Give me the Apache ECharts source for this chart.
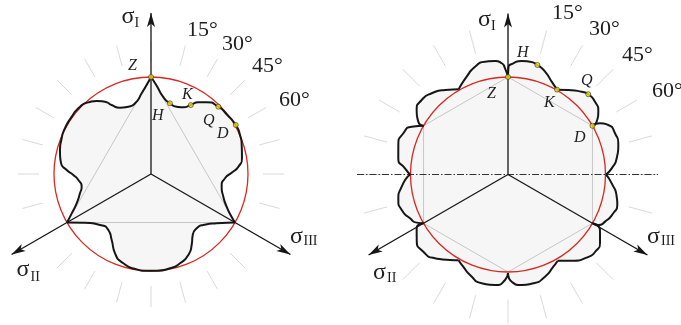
<!DOCTYPE html>
<html>
<head>
<meta charset="utf-8">
<script src="https://cdn.jsdelivr.net/npm/echarts@6/dist/echarts.min.js"></script>
<style>
  html, body { margin: 0; padding: 0; background: #ffffff; }
  #chart { width: 681px; height: 325px; }
</style>
</head>
<body>
<div id="chart"></div>
<script>
// Two deviatoric-plane sections drawn in polar coordinates.
// Every curve point is [angle in degrees clockwise from the σI axis, radius].

// ---- left section: three-lobed limit curve ----
const leftCircleRadius = 97;
const leftVertexAngles = [0, 120, 240, 360];
const leftArcTop = [[0, 97], [3.7, 88.5], [9, 78], [15, 73.2], [20.9, 72], [25.8, 74.1], [29.9, 79.6],
  [33.4, 85.9], [37.8, 90.8], [45, 95.2], [52.1, 96.4], [59.9, 97.9], [66.3, 97.2], [72.3, 95.2],
  [80.2, 92.3], [85, 88], [89, 81], [93.3, 74.1], [100.2, 71.8], [107.4, 75.8], [113.4, 82.5],
  [117.9, 91], [120, 97]];
const leftArcBottom = [[120, 97], [126.9, 82.1], [134.3, 73], [139.9, 71], [145.6, 73.9], [150.2, 81.8],
  [155.3, 89.2], [162, 93.9], [168.6, 96.2], [176.6, 96.9], [183, 97], [188.5, 96.4], [197.2, 93.5],
  [204.4, 87.1], [210.8, 76.8], [217.3, 70.4], [225, 72.1], [234.3, 83.4], [240, 97]];
const leftArcSide = [[240, 97], [243.6, 88.5], [248.5, 79.9], [254.8, 73.6], [259.6, 70.5], [265.3, 72.9],
  [269.3, 77.7], [272.7, 84.4], [277, 90.7], [283.8, 93.7], [291.8, 96.2], [298, 97.4], [305.9, 97.8],
  [313.5, 97.8], [318.8, 95.2], [323.4, 91], [327.5, 85.7], [330.3, 79.4], [334.9, 73.2], [341.4, 71],
  [347.3, 72.5], [353.4, 81.2], [360, 97]];
const leftMarks = [[0, 97], [15, 73.2], [30, 79.6], [45, 95.2], [60, 97.9]];

// ---- right section: twelve-lobed limit curve ----
const rightCircleRadius = 97.5;
const rightVertexAngles = [0, 60, 120, 180, 240, 300, 360];
const lobe000 = [[0, 97.5], [0.2, 106.2], [2.7, 111.3], [6.9, 114.3], [11, 114.9], [15, 113.4], [19.8, 109.3], [25.2, 102.6], [30, 98]];
const lobe030 = [[30, 98], [35.5, 103.8], [41.7, 110.8], [45, 113.5], [50.1, 113.4], [55.2, 110], [59.2, 103.2], [60, 97.5]];
const lobe060 = [[60, 97.5], [60.9, 105.3], [63.7, 111.8], [68.9, 114.7], [75, 114.2], [81.5, 109.9], [86.6, 103.9], [90, 98]];
const lobe090 = [[90, 98], [94.9, 104.1], [101.5, 110.9], [105.6, 113.5], [110.2, 112.2], [115.9, 107.9], [119.2, 103.5], [120, 97.5]];
const lobe120 = [[120, 97.5], [121.1, 107.4], [126.8, 114.9], [131, 116.5], [135.9, 115], [143.5, 107.2], [150, 99.5]];
const lobe150 = [[150, 99.5], [153.8, 102.7], [160.1, 108.7], [166.9, 111.7], [172.9, 111.3], [178, 107.3], [180, 98.5]];
const lobe180 = [[180, 98.5], [181.6, 105.5], [186.7, 111.3], [193.6, 111.9], [200.7, 107.4], [205.9, 102.5], [210, 98.9]];
const lobe210 = [[210, 98.9], [214.2, 103.3], [221.1, 111.1], [227.6, 114.6], [234.3, 112.4], [239.5, 106], [240, 97.5]];
const lobe240 = [[240, 97.5], [242.2, 103.2], [245.9, 107.3], [251.5, 112.1], [256.9, 112.6], [263.5, 107], [270, 98]];
const lobe270 = [[270, 98], [273.4, 103.2], [278.4, 110.9], [285.1, 113.6], [291.5, 112.5], [296.4, 107.5], [300, 97.5]];
const lobe300 = [[300, 97.5], [300.5, 104.1], [305.2, 111.8], [310.8, 114], [316.8, 111.4], [323.3, 105.4], [330, 98.5]];
const lobe330 = [[330, 98.5], [337.1, 106.2], [343, 112.7], [348.5, 115.1], [353.5, 114.2], [356.8, 111.4], [358.4, 106.2], [360, 97.5]];
const rightMarks = [[0, 97.5], [15, 113.4], [30, 98], [45, 113.5], [60, 97.5]];
const symmetryLine = [[270, 151], [90, 150]];

// ---- shared ----
const axisAngles = [0, 240, 120];
const axisSubscripts = ['I', 'II', 'III'];
const axisLength = 168;
const markNames = ['Z', 'H', 'K', 'Q', 'D'];
const rayLabels = ['15°', '30°', '45°', '60°'];
const rayStep = 15;

// ---- layout ----
const leftCenter = [151, 174];
const rightCenter = [508, 174.5];
const OUTER = 170;
const INK = '#161616';
const FILL = '#f6f6f6';
const RED = '#d9281f';
const SMOOTH = 0.65;
const SERIF = '"Liberation Serif", "Times New Roman", serif';

function polarSet(center, rayStart, rayLen, circleR) {
  // three polar systems per section: data, tick rays, reference circle
  const polars = [
    { center: center, radius: OUTER },
    { center: center, radius: rayStart },
    { center: center, radius: circleR }
  ];
  const angleAxes = [
    { type: 'value', min: 0, max: 360, startAngle: 90, clockwise: true, show: true,
      axisLine: { show: false }, axisTick: { show: false }, axisLabel: { show: false }, splitLine: { show: false } },
    { type: 'value', min: 0, max: 360, interval: rayStep, startAngle: 90, clockwise: true,
      axisLine: { show: false }, axisLabel: { show: false }, splitLine: { show: false },
      axisTick: { show: true, length: rayLen, lineStyle: { color: '#dadada', width: 1 } } },
    { type: 'value', min: 0, max: 360, startAngle: 90, clockwise: true, z: 3,
      axisLine: { show: true, lineStyle: { color: RED, width: 1.3 } },
      axisTick: { show: false }, axisLabel: { show: false }, splitLine: { show: false } }
  ];
  const radiusAxes = [
    { type: 'value', min: 0, max: OUTER, show: false },
    { type: 'value', min: 0, max: rayStart, show: false },
    { type: 'value', min: 0, max: circleR, show: false }
  ];
  return { polars, angleAxes, radiusAxes };
}

const L = polarSet(leftCenter, 112, 21, leftCircleRadius);
const R = polarSet(rightCenter, 125, 24, rightCircleRadius);
const polar = L.polars.concat(R.polars);
const angleAxis = L.angleAxes.concat(R.angleAxes).map((a, i) => Object.assign({ polarIndex: i }, a));
const radiusAxis = L.radiusAxes.concat(R.radiusAxes).map((a, i) => Object.assign({ polarIndex: i }, a));

const toPolar = pts => pts.map(p => [p[1], p[0]]);

function curveFill(pi, pts) {
  return { type: 'line', coordinateSystem: 'polar', polarIndex: pi, data: toPolar(pts), smooth: SMOOTH,
    symbol: 'none', silent: true, z: 1, lineStyle: { width: 0, opacity: 0 },
    areaStyle: { color: FILL, opacity: 1 } };
}
function curveLine(pi, pts) {
  return { type: 'line', coordinateSystem: 'polar', polarIndex: pi, data: toPolar(pts), smooth: SMOOTH,
    symbol: 'none', silent: true, z: 4, lineStyle: { color: INK, width: 2 } };
}
function polygonLine(pi, angles, r) {
  return { type: 'line', coordinateSystem: 'polar', polarIndex: pi, data: angles.map(a => [r, a]),
    symbol: 'none', silent: true, z: 2, lineStyle: { color: '#c6c6c6', width: 1 } };
}
function axisArrow(pi, a) {
  return { type: 'line', coordinateSystem: 'polar', polarIndex: pi, silent: true, z: 5,
    showSymbol: true, showAllSymbol: true,
    lineStyle: { color: INK, width: 1.3 }, itemStyle: { color: INK, borderWidth: 0 },
    data: [
      { value: [0, a], symbol: 'none' },
      { value: [axisLength - 7, a], symbol: 'arrow', symbolSize: [6, 14], symbolRotate: -a }
    ] };
}
function markPoints(pi, pts) {
  return { type: 'scatter', coordinateSystem: 'polar', polarIndex: pi, data: toPolar(pts), silent: true,
    z: 6, symbol: 'circle', symbolSize: 5,
    itemStyle: { color: '#f4e200', borderColor: '#303030', borderWidth: 0.8 } };
}

const leftArcs = [leftArcTop, leftArcBottom, leftArcSide];
const rightArcs = [lobe000, lobe030, lobe060, lobe090, lobe120, lobe150, lobe180, lobe210, lobe240, lobe270, lobe300, lobe330];

const series = [];
leftArcs.forEach(a => series.push(curveFill(0, a)));
rightArcs.forEach(a => series.push(curveFill(3, a)));
series.push(polygonLine(0, leftVertexAngles, leftCircleRadius));
series.push(polygonLine(3, rightVertexAngles, rightCircleRadius));
series.push({ type: 'line', coordinateSystem: 'polar', polarIndex: 3, data: toPolar(symmetryLine),
  symbol: 'none', silent: true, z: 3, lineStyle: { color: '#333', width: 1, type: [7, 2, 1.5, 2] } });
leftArcs.forEach(a => series.push(curveLine(0, a)));
rightArcs.forEach(a => series.push(curveLine(3, a)));
axisAngles.forEach(a => { series.push(axisArrow(0, a)); series.push(axisArrow(3, a)); });
series.push(markPoints(0, leftMarks));
series.push(markPoints(3, rightMarks));

// ---- text ----
const leftRayLabelPos = [[187, 30.5], [222, 44], [252, 66], [279, 100]];
const rightRayLabelPos = [[552, 13.5], [589, 29.5], [622, 55], [652, 91.5]];
const leftSigmaPos = [[121.5, 16.6, 134.5, 23.3], [16.5, 270.1, 30.5, 277], [290, 236.6, 303.5, 241]];
const rightSigmaPos = [[478, 20.1, 491, 26.7], [373, 272.6, 387, 278], [647, 236.6, 661, 241]];
const leftMarkLabelPos = [[128, 65.5], [152, 116], [182, 94.5], [203, 120.5], [217, 134]];
const rightMarkLabelPos = [[487, 93.5], [517, 52.5], [544, 102.5], [581, 81], [574, 138]];

function txt(x, y, s, font) {
  return { type: 'text', x: x, y: y, z: 10, silent: true,
    style: { text: s, font: font, fill: '#1e1e1e', textAlign: 'left', textVerticalAlign: 'middle' } };
}
const graphic = [];
[leftRayLabelPos, rightRayLabelPos].forEach(pos => pos.forEach((p, i) =>
  graphic.push(txt(p[0], p[1], rayLabels[i], '22px ' + SERIF))));
[leftSigmaPos, rightSigmaPos].forEach(pos => pos.forEach((p, i) => {
  graphic.push(txt(p[0], p[1], 'σ', '24px ' + SERIF));
  graphic.push(txt(p[2], p[3], axisSubscripts[i], '14px ' + SERIF));
}));
[leftMarkLabelPos, rightMarkLabelPos].forEach(pos => pos.forEach((p, i) =>
  graphic.push(txt(p[0], p[1], markNames[i], 'italic 16px ' + SERIF))));

const chart = echarts.init(document.getElementById('chart'), null, { renderer: 'canvas' });
chart.setOption({
  animation: false,
  backgroundColor: '#ffffff',
  polar: polar,
  angleAxis: angleAxis,
  radiusAxis: radiusAxis,
  series: series,
  graphic: { elements: graphic }
});
</script>
</body>
</html>
